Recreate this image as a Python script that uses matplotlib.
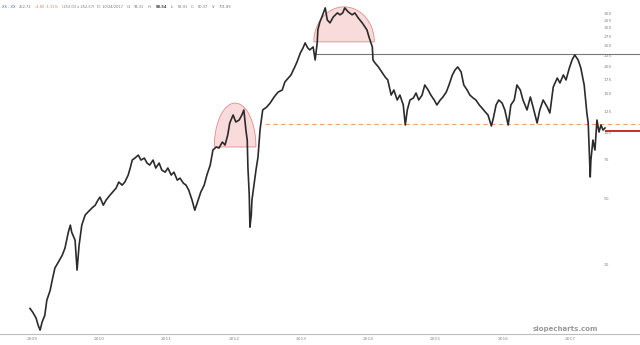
import numpy as np
import matplotlib
matplotlib.use("Agg")
import matplotlib.pyplot as plt
from matplotlib.patches import Polygon

# price path (decimal year, close)
years = [2008.97, 2009.01, 2009.06, 2009.09, 2009.12, 2009.15, 2009.19, 2009.22, 2009.27, 2009.30,
         2009.34, 2009.39, 2009.45, 2009.49, 2009.54, 2009.57, 2009.59, 2009.64, 2009.67, 2009.70,
         2009.74, 2009.79, 2009.83, 2009.89, 2009.94, 2009.98, 2010.01, 2010.06, 2010.10, 2010.16,
         2010.20, 2010.25, 2010.29, 2010.34, 2010.38, 2010.43, 2010.46, 2010.49, 2010.53, 2010.58,
         2010.62, 2010.67, 2010.71, 2010.75, 2010.80, 2010.84, 2010.89, 2010.93, 2010.98, 2011.02,
         2011.07, 2011.11, 2011.16, 2011.20, 2011.25, 2011.29, 2011.33, 2011.38, 2011.42, 2011.47,
         2011.51, 2011.56, 2011.60, 2011.65, 2011.69, 2011.74, 2011.78, 2011.83, 2011.87, 2011.91,
         2011.94, 2011.99, 2012.03, 2012.08, 2012.12, 2012.15, 2012.18, 2012.20, 2012.21, 2012.23,
         2012.24, 2012.26, 2012.27, 2012.30, 2012.33, 2012.36, 2012.39, 2012.43, 2012.49, 2012.54,
         2012.60, 2012.66, 2012.72, 2012.76, 2012.81, 2012.85, 2012.90, 2012.94, 2012.99, 2013.03,
         2013.06, 2013.10, 2013.13, 2013.18, 2013.21, 2013.24, 2013.25, 2013.28, 2013.31, 2013.36,
         2013.39, 2013.43, 2013.48, 2013.54, 2013.58, 2013.62, 2013.65, 2013.70, 2013.76, 2013.80,
         2013.85, 2013.91, 2013.95, 2013.98, 2014.01, 2014.06, 2014.07, 2014.10, 2014.15, 2014.20,
         2014.25, 2014.29, 2014.34, 2014.38, 2014.43, 2014.47, 2014.52, 2014.55, 2014.58, 2014.62,
         2014.67, 2014.71, 2014.75, 2014.80, 2014.84, 2014.89, 2014.93, 2014.98, 2015.02, 2015.07,
         2015.11, 2015.16, 2015.20, 2015.25, 2015.29, 2015.33, 2015.38, 2015.42, 2015.47, 2015.51,
         2015.56, 2015.60, 2015.65, 2015.69, 2015.74, 2015.78, 2015.83, 2015.86, 2015.90, 2015.94,
         2015.99, 2016.03, 2016.08, 2016.12, 2016.17, 2016.21, 2016.26, 2016.30, 2016.36, 2016.41,
         2016.45, 2016.51, 2016.55, 2016.60, 2016.66, 2016.70, 2016.75, 2016.81, 2016.85, 2016.90,
         2016.94, 2016.99, 2017.03, 2017.07, 2017.12, 2017.16, 2017.21, 2017.25, 2017.27, 2017.30,
         2017.31, 2017.34, 2017.37, 2017.40, 2017.43, 2017.46, 2017.49, 2017.52]
closes = [15.7, 15.1, 14.2, 13.2, 12.5, 13.6, 14.6, 17.1, 19.0, 21.1,
          24.0, 25.5, 27.5, 29.6, 35.0, 37.7, 35.0, 32.2, 23.5, 30.5,
          37.7, 41.9, 43.2, 45.1, 46.5, 49.0, 50.6, 46.5, 49.0, 51.7,
          53.4, 55.6, 59.3, 57.4, 59.3, 63.8, 68.7, 74.7, 76.3, 78.7,
          74.7, 76.3, 72.4, 70.9, 74.7, 68.7, 72.4, 67.2, 65.8, 68.7,
          63.8, 65.8, 60.5, 61.8, 58.6, 57.4, 54.5, 49.0, 44.1, 49.0,
          53.4, 57.4, 63.8, 70.9, 83.0, 85.7, 84.8, 90.3, 87.5, 97.2,
          110.3, 120.0, 111.5, 113.8, 120.0, 126.5, 102.4, 92.2, 69.4, 51.7,
          36.9, 41.9, 49.0, 57.4, 67.2, 77.1, 102.4, 126.5, 130.5, 136.0,
          145.0, 152.8, 156.0, 169.8, 177.0, 182.8, 196.8, 209.6, 230.5, 242.9,
          256.0, 242.9, 237.8, 245.4, 214.0, 256.0, 293.6, 319.0, 336.5, 370.0,
          326.0, 316.0, 336.5, 351.0, 344.0, 351.0, 370.0, 355.0, 344.0, 351.0,
          333.0, 316.0, 303.0, 293.6, 272.7, 245.4, 214.0, 207.4, 198.9, 188.6,
          179.0, 173.4, 148.0, 156.0, 140.5, 148.0, 133.3, 108.0, 126.5, 140.5,
          143.4, 151.2, 140.5, 148.0, 164.5, 156.0, 148.0, 140.5, 133.3, 140.5,
          145.0, 152.8, 164.5, 182.8, 192.7, 198.9, 188.6, 164.5, 156.0, 148.0,
          143.4, 140.5, 133.3, 129.2, 123.8, 120.0, 106.9, 116.2, 133.3, 140.5,
          136.0, 126.5, 108.0, 133.3, 140.5, 164.5, 156.0, 140.5, 126.5, 145.0,
          130.5, 110.3, 126.5, 140.5, 130.5, 122.5, 161.0, 177.0, 168.0, 182.8,
          173.4, 196.8, 214.0, 225.6, 214.0, 196.8, 164.5, 122.5, 110.3, 62.5,
          74.7, 92.2, 83.0, 113.8, 100.3, 108.0, 102.4, 104.7]

year_ticks = [2009, 2010, 2011, 2012, 2013, 2014, 2015, 2016, 2017]
price_ticks = [25, 50, 75, 100, 125, 150, 175, 200, 225, 250, 275, 300, 325, 350]

last_price = 101.5
support_level = 109.0
support_start = 2012.46
resistance_level = 228.0
resistance_start = 2013.21

# rounded-top annotations: (start year, end year, base price, top price)
arches = [(2011.71, 2012.33, 85.7, 136.0),
          (2013.19, 2014.09, 258.8, 374.0)]

fig = plt.figure(figsize=(6.4, 3.45), dpi=100)
ax = fig.add_axes([0, 11 / 345, 1, 334 / 345])
ax.set_yscale("log")
ax.set_xlim(2008.524, 2018.04)
ax.set_ylim(12.0, 402.0)

ax.plot(years, closes, color="#2b2b2b", lw=1.2, zorder=3)

ax.hlines(support_level, support_start, 2018.04, colors="#e8a07a", lw=0.8,
          linestyles=(0, (4, 3)), zorder=2)
ax.hlines(resistance_level, resistance_start, 2018.04, colors="#777777", lw=0.8, zorder=2)
ax.hlines(last_price, years[-1], 2018.04, colors="#c0302a", lw=1.4, zorder=4)

# half ellipses drawn in display space so log scale doesn't squash them
fig.canvas.draw()
inv = ax.transData.inverted()
for x0, x1, base, top in arches:
    (px0, py0), (px1, _) = ax.transData.transform([(x0, base), (x1, base)])
    _, ptop = ax.transData.transform((x0, top))
    cx, rx, ry = (px0 + px1) / 2, (px1 - px0) / 2, ptop - py0
    t = np.linspace(0, np.pi, 60)
    pts = inv.transform(np.column_stack([cx + rx * np.cos(t), py0 + ry * np.sin(t)]))
    ax.add_patch(Polygon(pts, closed=True, facecolor="#f7cfcf", edgecolor="#e06868",
                         lw=0.6, alpha=0.75, zorder=1))

for s in ["top", "left", "right"]:
    ax.spines[s].set_visible(False)
ax.spines["bottom"].set_color("#bdbdbd")

ax.set_xticks(year_ticks)
ax.set_xticklabels([str(y) for y in year_ticks])
ax.yaxis.tick_right()
ax.set_yticks(price_ticks)
ax.set_yticklabels([str(p) for p in price_ticks])
ax.yaxis.set_minor_locator(matplotlib.ticker.NullLocator())
ax.tick_params(axis="x", length=0, labelsize=3.2, colors="#888888", pad=2.5)
ax.tick_params(axis="y", length=0, labelsize=3.2, colors="#888888", pad=-26)

# header line, laid out piece by piece from measured widths
header = [("XX - XX", "#3d5fc4", "normal"),
          ("252.73", "#777777", "normal"),
          ("-4.80 -1.31%", "#e0805a", "normal"),
          ("(253.03 x 252.57)", "#777777", "normal"),
          ("D: 10/24/2017", "#777777", "normal"),
          ("O:", "#777777", "normal"),
          ("94.31", "#777777", "normal"),
          ("H:", "#777777", "normal"),
          ("88.54", "#444444", "bold"),
          ("L:", "#777777", "normal"),
          ("63.91", "#777777", "normal"),
          ("C:", "#777777", "normal"),
          ("60.37", "#777777", "normal"),
          ("V:", "#777777", "normal"),
          ("701.89", "#777777", "normal")]
renderer = fig.canvas.get_renderer()
xpix = 2.0
for txt, col, wt in header:
    t = fig.text(xpix / 640, 0.986, txt, fontsize=2.6, color=col, va="top", weight=wt)
    xpix += t.get_window_extent(renderer).width + 3.5

fig.text(0.935, 0.038, "slopecharts.com", fontsize=5.0, color="#999999",
         ha="right", va="bottom", weight="bold")

fig.savefig("out.png", dpi=100, facecolor="white")
